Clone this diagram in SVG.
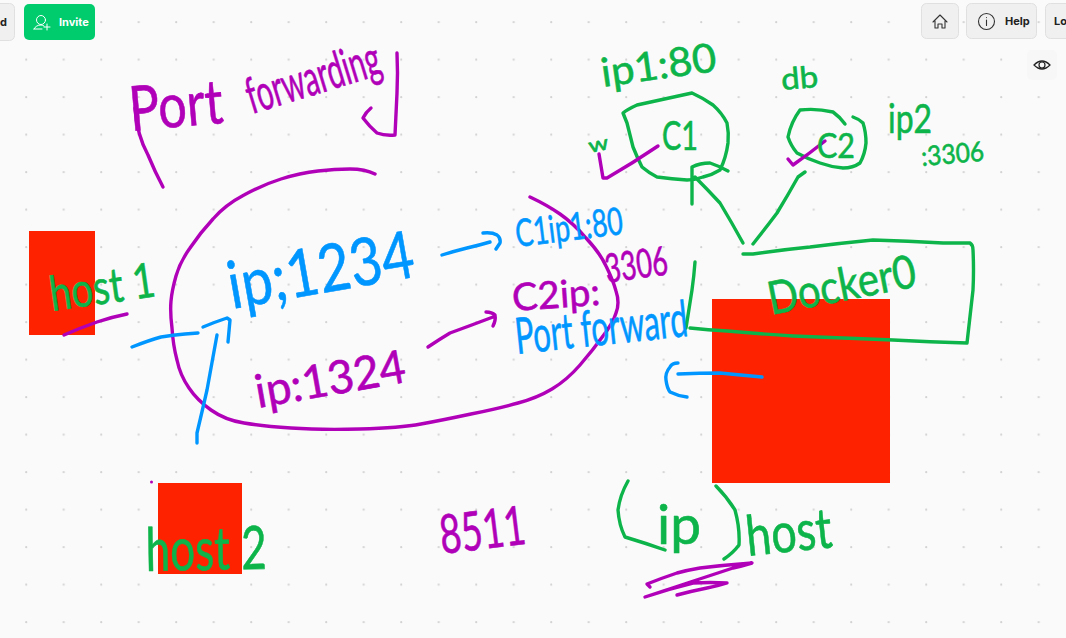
<svg xmlns="http://www.w3.org/2000/svg" width="1066" height="638" viewBox="0 0 1066 638">
<style>
.ink{fill:none;stroke-width:3.400;stroke-linecap:round;stroke-linejoin:round}
.p{stroke:#b000b8}.g{stroke:#0cb44a}.b{stroke:#0096ff}
text{font-family:"Lato","Open Sans",sans-serif}
.tp{fill:#b000b8}.tg{fill:#0cb44a}.tb{fill:#0096ff}
.hand{stroke-width:.6;paint-order:stroke;stroke-linejoin:round}
.tp.hand{stroke:#b000b8}.tg.hand{stroke:#0cb44a}.tb.hand{stroke:#0096ff}
.red{fill:#ff2200}
.btn{fill:#f0f0f0;stroke:#e0e0e0;stroke-width:1}
.ui{font-size:11px;font-weight:700;fill:#222;font-family:"Inter","Liberation Sans",sans-serif}
.ic{fill:none;stroke:#333;stroke-width:1.1;stroke-linecap:round;stroke-linejoin:round}
</style>
<defs>
<pattern id="dots" x="25" y="21" width="37.5" height="37.5" patternUnits="userSpaceOnUse"><circle cx="1.200" cy="1.200" r="1.100" fill="#d2d2d2"/></pattern>
</defs>
<rect width="1066" height="638" fill="#fafafa"/>
<rect width="1066" height="638" fill="url(#dots)"/>

<g id="rect-host1"><rect class="red" x="29" y="231" width="66" height="104"/></g>
<g id="rect-host2"><rect class="red" x="158" y="483" width="84" height="91"/></g>
<g id="rect-host"><rect class="red" x="712" y="299" width="178" height="184"/></g>

<g id="connectors">
<path class="ink p" d="M375 174Q365 169 350 169Q335 169 318 171Q300 173 281 179Q262 185 244 195Q225 205 213 219Q200 233 190 248Q180 262 176 276Q172 290 171 301Q170 312 172 328Q173 345 177 360Q180 375 189 388Q197 400 211 410Q225 420 244 423Q262 426 291 428Q320 430 360 429Q400 428 421 424Q443 420 471 414Q500 408 518 403Q537 398 552 389Q567 380 580 365Q593 350 603 336Q613 323 616 313Q620 303 616 291Q613 280 606 266Q600 253 586 238Q573 223 560 214Q547 205 530 197"/>
<path class="ink b" d="M132 347Q150 340 161 337Q173 335 185 334L198 333M203 327Q215 322 227 318L230 320L228 342"/>
<path class="ink b" d="M217 335Q212 362 207 390Q202 412 197 433L197 443"/>
<path class="ink b" d="M442 255Q455 251 467 248Q480 245 490 242M483 233Q492 232 497 235Q501 238 500 243L496 249"/>
<path class="ink p" d="M428 347Q440 339 450 333Q472 325 493 317M486 312Q492 312 495 315Q496 320 493 326"/>
<path class="ink b" d="M762 377Q740 375 720 373Q700 373 678 374M678 363Q672 363 670 367Q665 373 666 380Q667 388 670 392Q678 396 687 397"/>
<path class="ink g" d="M743 254L753 254Q780 250 810 247Q842 243 873 240Q908 241 943 243L970 243Q973 245 973 250Q974 270 973 290Q970 316 967 343Q930 342 893 340Q843 338 793 336Q760 334 727 331Q708 330 690 328"/>
<path class="ink g" d="M695 262Q694 276 692 290Q689 309 686 328"/>
<path class="ink g" d="M623 113Q628 109 637 105Q664 99 692 93Q703 98 713 105Q722 113 727 123Q729 133 728 143Q726 158 720 170Q712 175 703 177Q695 180 687 180Q672 179 657 177Q649 173 642 167Q637 157 633 147Q630 135 627 123Q625 118 623 113Z"/>
<path class="ink g" d="M743 243Q732 223 720 203Q708 190 695 177M692 204L692 167Q700 163 710 163Q719 166 728 171"/>
<path class="ink g" d="M753 244Q765 229 777 213Q788 195 798 177L805 172"/>
<path class="ink g" d="M845 124Q840 117 833 112Q816 108 800 110Q791 122 788 137Q791 146 797 153Q808 159 820 163Q831 167 843 168Q853 168 860 163Q865 154 866 143Q866 132 863 123Q859 119 853 117"/>
<path class="ink p" d="M599 154L603 178L607 178Q633 163 658 146"/>
<path class="ink p" d="M788 159L793 165Q810 153 825 141"/>
<path class="ink p" d="M64 335Q80 328 97 322Q112 317 127 314"/>
<path class="ink p" d="M397 53Q398 73 397 93Q396 114 395 135Q385 136 377 133Q369 126 363 118Q366 112 371 108"/>
<path class="ink p" d="M135 108Q137 135 148 155Q155 172 163 187"/>
<path class="ink g" d="M628 481Q620 495 618 510Q619 525 625 537Q645 543 665 550"/>
<path class="ink g" d="M716 486Q727 497 735 510Q740 528 739 545Q733 553 724 559"/>
<path class="ink p" d="M650 587L647 584Q662 578 677 573Q688 570 700 568Q725 565 752 563Q742 566 733 568Q690 582 645 597Q668 589 693 583Q710 582 727 583Q718 586 707 588Q692 591 677 595"/>
<circle cx="151.500" cy="482" r="1.500" fill="#b000b8"/>
</g>

<g id="label-title">
<text class="tp hand" x="131" y="131" font-size="62" textLength="94" lengthAdjust="spacingAndGlyphs" transform="rotate(-5 131 131)">Port</text>
<text class="tp hand" x="252" y="114" font-size="50" textLength="138" lengthAdjust="spacingAndGlyphs" transform="rotate(-17 252 114)">forwarding</text>
</g>
<g id="node-c1">
<text class="tg hand" x="603" y="87" font-size="40" textLength="116" lengthAdjust="spacingAndGlyphs" transform="rotate(-8 603 87)">ip1:80</text>
<text class="tg hand" x="662" y="150" font-size="40" textLength="36" lengthAdjust="spacingAndGlyphs">C1</text>
<text class="tg hand" x="590" y="153" font-size="20" textLength="20" lengthAdjust="spacingAndGlyphs" transform="rotate(-12 590 153)">w</text>
</g>
<g id="node-c2">
<text class="tg hand" x="782" y="90" font-size="30" textLength="37" lengthAdjust="spacingAndGlyphs" transform="rotate(-5 782 90)">db</text>
<text class="tg hand" x="817" y="158" font-size="34" textLength="38" lengthAdjust="spacingAndGlyphs">C2</text>
<text class="tg hand" x="888" y="133" font-size="40" textLength="44" lengthAdjust="spacingAndGlyphs">ip2</text>
<text class="tg hand" x="922" y="166" font-size="27" textLength="63" lengthAdjust="spacingAndGlyphs" transform="rotate(-5 922 166)">:3306</text>
</g>
<g id="node-host1">
<text class="tg hand" x="52" y="311" font-size="48" textLength="106" lengthAdjust="spacingAndGlyphs" transform="rotate(-8 52 311)">host 1</text>
</g>
<g id="node-host2">
<text class="tg hand" x="146" y="571" font-size="60" textLength="121" lengthAdjust="spacingAndGlyphs" transform="rotate(-1 146 571)">host 2</text>
</g>
<g id="label-ports">
<text class="tb hand" x="232" y="309" font-size="66" textLength="188" lengthAdjust="spacingAndGlyphs" transform="rotate(-10 232 309)">ip;1234</text>
<text class="tp hand" x="258" y="408" font-size="46" textLength="152" lengthAdjust="spacingAndGlyphs" transform="rotate(-10 258 408)">ip:1324</text>
<text class="tb hand" x="517" y="247" font-size="38" textLength="108" lengthAdjust="spacingAndGlyphs" transform="rotate(-7 517 247)">C1ip1:80</text>
<text class="tp hand" x="513" y="311" font-size="38" textLength="88" lengthAdjust="spacingAndGlyphs" transform="rotate(-4 513 311)">C2ip:</text>
<text class="tp hand" x="607" y="283" font-size="40" textLength="63" lengthAdjust="spacingAndGlyphs" transform="rotate(-8 607 283)">3306</text>
<text class="tb hand" x="517" y="354" font-size="50" textLength="173" lengthAdjust="spacingAndGlyphs" transform="rotate(-6 517 354)">Port forward</text>
</g>
<g id="node-docker">
<text class="tg hand" x="771" y="315" font-size="46" textLength="150" lengthAdjust="spacingAndGlyphs" transform="rotate(-11 771 315)">Docker0</text>
</g>
<g id="label-8511">
<text class="tp hand" x="442" y="554" font-size="54" textLength="86" lengthAdjust="spacingAndGlyphs" transform="rotate(-7 442 554)">8511</text>
</g>
<g id="node-host">
<text class="tg hand" x="657" y="544" font-size="54" textLength="44" lengthAdjust="spacingAndGlyphs">ip</text>
<text class="tg hand" x="748" y="556" font-size="56" textLength="86" lengthAdjust="spacingAndGlyphs" transform="rotate(-6 748 556)">host</text>
</g>

<g id="toolbar">
<rect class="btn" x="-10" y="3.500" width="24.500" height="37" rx="5"/>
<text class="ui" x="0" y="26" font-size="11">d</text>
<rect x="24" y="4" width="71" height="36" rx="5" fill="#00cc6e"/>
<g fill="none" stroke="#fff" stroke-width="1" stroke-linecap="round"><circle cx="41" cy="20" r="4.500"/><path d="M34 29Q36 25 41 25Q43 25 44 26M34 29L42 29M47 24V30M44 27H50"/></g>
<text x="59" y="26" font-size="11" font-weight="700" fill="#fff" style="font-family:Inter,'Liberation Sans',sans-serif">Invite</text>
<rect class="btn" x="921.500" y="3.500" width="37" height="35" rx="5"/>
<path class="ic" d="M933 22L940 15L947 22M935 21V28H938V24H942V28H945V21"/>
<rect class="btn" x="966.500" y="3.500" width="70" height="35" rx="5"/>
<circle class="ic" cx="986.500" cy="21.500" r="8"/><path class="ic" d="M986.500 20V25.500M986.500 17.500V17.600"/>
<text class="ui" x="1005" y="25" font-size="11">Help</text>
<rect class="btn" x="1045.500" y="3.500" width="30" height="35" rx="5"/>
<text class="ui" x="1054" y="25" font-size="11">Lo</text>
<rect x="1027" y="50" width="30" height="30" rx="5" fill="#f7f7f7"/>
<path d="M1034 65Q1042 57 1050 65Q1042 73 1034 65Z" fill="none" stroke="#222" stroke-width="1.200"/><circle cx="1042" cy="65" r="3" fill="none" stroke="#222" stroke-width="1.200"/>
</g>
</svg>
